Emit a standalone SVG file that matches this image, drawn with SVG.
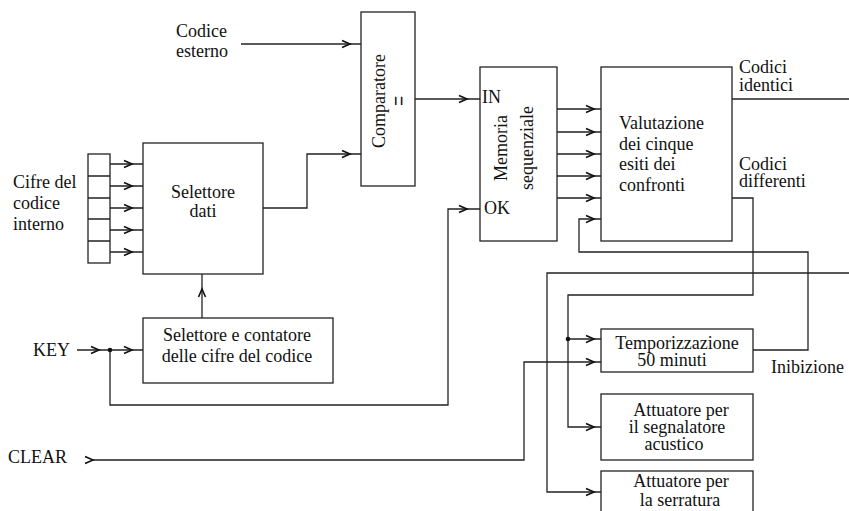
<svg xmlns="http://www.w3.org/2000/svg" xmlns:xlink="http://www.w3.org/1999/xlink" width="849" height="511" viewBox="0 0 849 511">
  <style>
    .box { fill: #fff; stroke: #222; stroke-width: 1.3; }
    .wire { fill: none; stroke: #222; stroke-width: 1.3; }
    .head { fill: none; stroke: #111; stroke-width: 1.6; stroke-linejoin: miter; }
    text { font-family: "Liberation Serif", "Times New Roman", serif; font-size: 18px; fill: #111; }
    .mid { text-anchor: middle; }
  </style>
  <defs>
    <!-- open chevron arrowhead, tip at origin pointing +x -->
    <path id="chev" class="head" d="M-8,-3.5 L0,0 L-8,3.5"/>
  </defs>

  <!-- connectors -->
  <g id="connectors">
    <!-- external code into comparator -->
    <path class="wire" d="M241,44 H361"/>
    <!-- register cells into data selector -->
    <path class="wire" d="M110,164 H143 M110,186 H143 M110,208 H143 M110,230 H143 M110,252 H143"/>
    <!-- data selector to comparator -->
    <path class="wire" d="M263,208 H307 V154 H361"/>
    <!-- comparator to memory IN -->
    <path class="wire" d="M415,99 H480"/>
    <!-- KEY line, counter and OK return -->
    <path class="wire" d="M77,350 H143"/>
    <path class="wire" d="M110,350 V405 H448 V209 H480"/>
    <!-- counter to data selector -->
    <path class="wire" d="M202,318 V274"/>
    <!-- memory outputs to evaluation -->
    <path class="wire" d="M557,109 H601 M557,132 H601 M557,154 H601 M557,176 H601 M557,198 H601"/>
    <!-- inhibition feedback -->
    <path class="wire" d="M753,350 H808 V252 H579 V219 H601"/>
    <!-- identical codes output -->
    <path class="wire" d="M732,99 H849"/>
    <!-- different codes output -->
    <path class="wire" d="M732,198 H753 V295 H568 V427 H601"/>
    <path class="wire" d="M568,339 H601"/>
    <!-- lock actuator line -->
    <path class="wire" d="M849,273 H547 V492 H601"/>
    <!-- CLEAR to timer -->
    <path class="wire" d="M93,460 H524 V362 H601"/>

    <!-- junction dots -->
    <circle cx="110" cy="350" r="2.3" fill="#111"/>
    <circle cx="568" cy="339" r="2.3" fill="#111"/>

    <!-- arrowheads -->
    <use xlink:href="#chev" href="#chev" transform="translate(350,44)"/>
    <use xlink:href="#chev" href="#chev" transform="translate(350,154)"/>
    <use xlink:href="#chev" href="#chev" transform="translate(132,164)"/>
    <use xlink:href="#chev" href="#chev" transform="translate(132,186)"/>
    <use xlink:href="#chev" href="#chev" transform="translate(132,208)"/>
    <use xlink:href="#chev" href="#chev" transform="translate(132,230)"/>
    <use xlink:href="#chev" href="#chev" transform="translate(132,252)"/>
    <use xlink:href="#chev" href="#chev" transform="translate(467,99)"/>
    <use xlink:href="#chev" href="#chev" transform="translate(467,209)"/>
    <use xlink:href="#chev" href="#chev" transform="translate(99,350)"/>
    <use xlink:href="#chev" href="#chev" transform="translate(132,350)"/>
    <use xlink:href="#chev" href="#chev" transform="translate(202,289) rotate(-90)"/>
    <use xlink:href="#chev" href="#chev" transform="translate(594,109)"/>
    <use xlink:href="#chev" href="#chev" transform="translate(594,132)"/>
    <use xlink:href="#chev" href="#chev" transform="translate(594,154)"/>
    <use xlink:href="#chev" href="#chev" transform="translate(594,176)"/>
    <use xlink:href="#chev" href="#chev" transform="translate(594,198)"/>
    <use xlink:href="#chev" href="#chev" transform="translate(594,219)"/>
    <use xlink:href="#chev" href="#chev" transform="translate(594,339)"/>
    <use xlink:href="#chev" href="#chev" transform="translate(594,362)"/>
    <use xlink:href="#chev" href="#chev" transform="translate(594,427)"/>
    <use xlink:href="#chev" href="#chev" transform="translate(594,492)"/>
    <use xlink:href="#chev" href="#chev" transform="translate(93,460)"/>
  </g>

  <!-- free labels -->
  <g id="labels">
    <text x="176" y="37">Codice</text>
    <text x="176" y="57">esterno</text>
    <text x="13" y="188">Cifre del</text>
    <text x="13" y="209">codice</text>
    <text x="13" y="230">interno</text>
    <text x="33" y="356">KEY</text>
    <text x="8" y="463">CLEAR</text>
    <text x="739" y="73">Codici</text>
    <text x="739" y="91">identici</text>
    <text x="739" y="170">Codici</text>
    <text x="739" y="187">differenti</text>
    <text x="771" y="373">Inibizione</text>
  </g>

  <!-- internal code register -->
  <g id="register">
    <rect class="box" x="88" y="154" width="22" height="109"/>
    <path class="wire" d="M88,176 H110 M88,198 H110 M88,219 H110 M88,241 H110"/>
  </g>

  <g id="selettore-dati">
    <rect class="box" x="143" y="143" width="120" height="131"/>
    <text class="mid" x="203" y="198">Selettore</text>
    <text class="mid" x="203" y="217">dati</text>
  </g>

  <g id="comparatore">
    <rect class="box" x="361" y="12" width="54" height="174"/>
    <text class="mid" transform="translate(385,101) rotate(-90)">Comparatore</text>
    <text class="mid" transform="translate(409,101) rotate(-90) scale(0.6,1)" style="font-size:30px">=</text>
  </g>

  <g id="memoria">
    <rect class="box" x="480" y="67" width="77" height="174"/>
    <text class="mid" transform="translate(507,148) rotate(-90)">Memoria</text>
    <text class="mid" transform="translate(533,148) rotate(-90)">sequenziale</text>
    <text x="482" y="103">IN</text>
    <text x="484" y="214">OK</text>
  </g>

  <g id="valutazione">
    <rect class="box" x="601" y="67" width="131" height="174"/>
    <text x="619" y="129">Valutazione</text>
    <text x="619" y="150">dei cinque</text>
    <text x="619" y="170">esiti dei</text>
    <text x="619" y="191">confronti</text>
  </g>

  <g id="contatore">
    <rect class="box" x="143" y="318" width="190" height="65"/>
    <text class="mid" x="237" y="341">Selettore e contatore</text>
    <text class="mid" x="237" y="362">delle cifre del codice</text>
  </g>

  <g id="temporizzazione">
    <rect class="box" x="601" y="329" width="152" height="43"/>
    <text class="mid" x="677" y="349">Temporizzazione</text>
    <text class="mid" x="672" y="366">50 minuti</text>
  </g>

  <g id="attuatore-acustico">
    <rect class="box" x="601" y="394" width="152" height="66"/>
    <text class="mid" x="681" y="416">Attuatore per</text>
    <text class="mid" x="677" y="433">il segnalatore</text>
    <text class="mid" x="674" y="450">acustico</text>
  </g>

  <g id="attuatore-serratura">
    <rect class="box" x="601" y="471" width="152" height="50"/>
    <text class="mid" x="681" y="487">Attuatore per</text>
    <text class="mid" x="680" y="506">la serratura</text>
  </g>
</svg>
